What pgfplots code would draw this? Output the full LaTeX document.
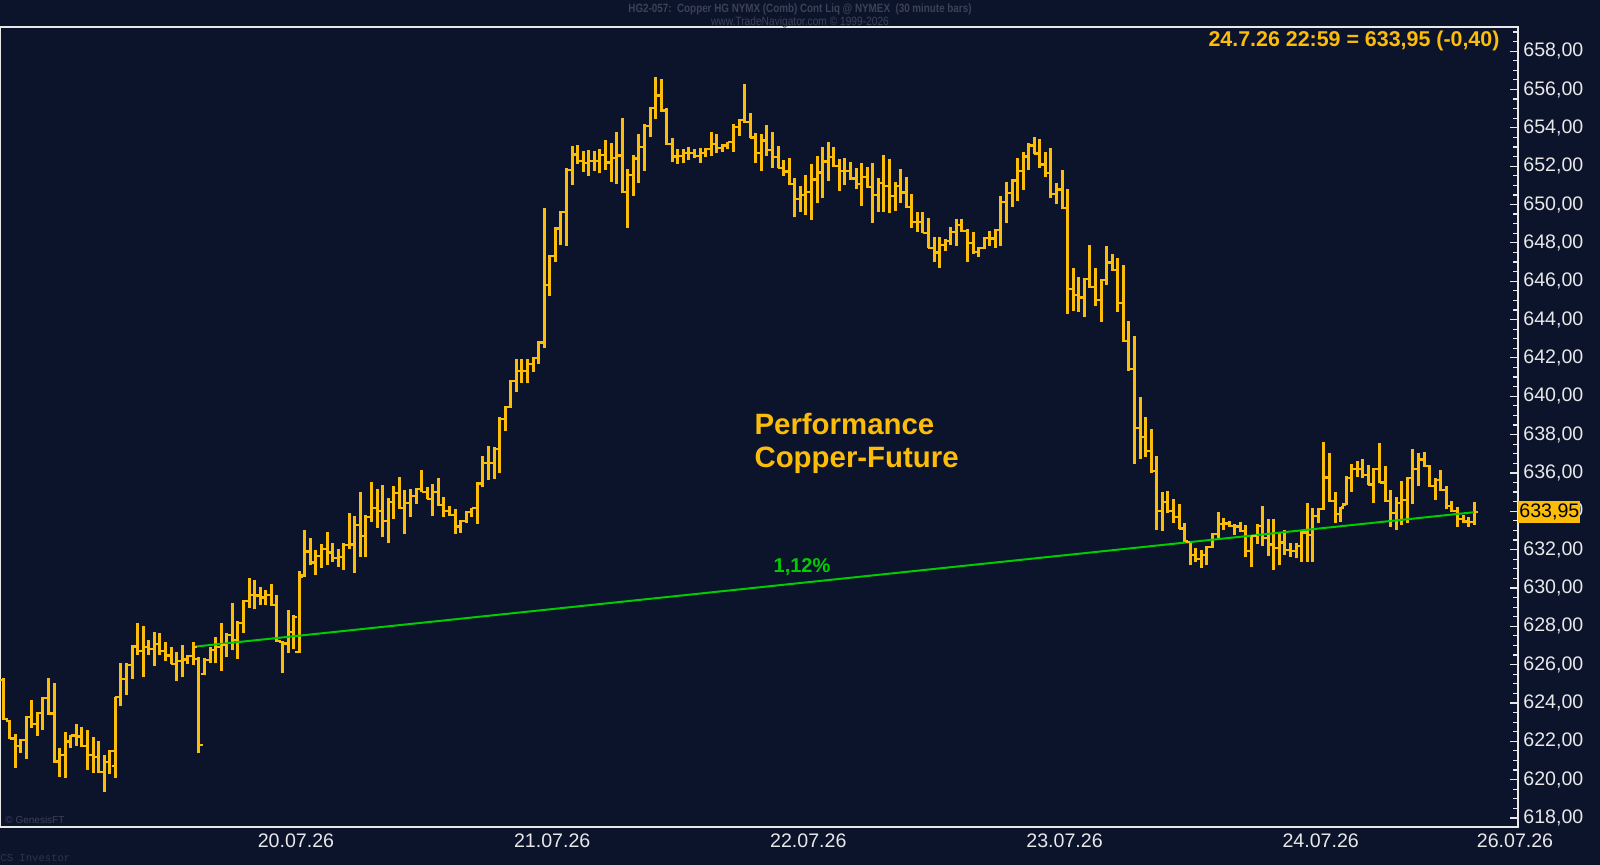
\documentclass[border=0pt]{standalone}
\usepackage{fontspec}
\setmainfont{Liberation Sans}
\setmonofont{Liberation Mono}
\usepackage{pgfplots}
\usepackage{pgfplotstable}
\pgfplotsset{compat=1.18}
\definecolor{bgc}{RGB}{12,20,44}
\definecolor{barc}{RGB}{252,188,10}
\definecolor{greenc}{RGB}{0,204,0}
\definecolor{tickc}{RGB}{232,232,232}
\definecolor{hdrc}{RGB}{60,66,86}
\pgfdeclareplotmark{otick}{\pgfpathmoveto{\pgfqpoint{-1.9pt}{0pt}}\pgfpathlineto{\pgfqpoint{0pt}{0pt}}\pgfusepathqstroke}
\pgfdeclareplotmark{ctick}{\pgfpathmoveto{\pgfqpoint{0pt}{0pt}}\pgfpathlineto{\pgfqpoint{1.9pt}{0pt}}\pgfusepathqstroke}

\pgfplotstableread{
i o h l c
0 625.20 625.29 623.12 623.15
1 623.05 623.12 622.11 622.15
2 622.15 622.38 620.59 621.75
3 621.75 622.11 621.38 622.05
4 622.05 623.32 621.06 623.25
5 623.25 624.16 622.68 622.90
6 622.90 623.55 622.28 623.46
7 623.46 624.33 622.59 624.25
8 624.25 625.32 623.38 623.45
9 623.45 625.03 620.89 620.95
10 620.95 621.64 620.16 621.29
11 621.29 622.51 620.07 621.99
12 621.99 622.33 621.64 622.30
13 622.30 622.89 621.76 622.25
14 622.25 622.77 621.72 621.75
15 621.75 622.59 620.50 621.29
16 621.29 622.25 620.33 621.18
17 621.18 621.99 620.37 620.40
18 620.40 621.29 619.34 620.92
19 620.92 621.55 620.28 621.50
20 620.70 624.33 620.07 624.30
21 624.30 626.07 623.85 625.25
22 625.25 626.07 624.42 626.00
23 626.00 627.03 625.26 626.95
24 626.95 628.16 626.51 626.70
25 626.70 628.02 625.38 626.90
26 626.90 627.29 626.51 626.83
27 626.83 627.72 625.93 627.08
28 627.08 627.64 626.51 626.70
29 626.70 627.20 626.20 626.48
30 626.48 626.94 626.02 626.05
31 626.05 626.68 625.12 626.20
32 626.20 627.03 625.38 626.27
33 626.27 626.51 626.02 626.45
34 626.45 627.20 625.97 626.93
35 626.30 626.38 621.38 621.80
36 625.50 626.33 625.46 626.25
37 626.25 626.94 626.07 626.77
38 626.77 627.46 626.07 626.90
39 626.90 628.16 625.67 627.03
40 627.03 627.64 626.42 627.55
41 627.55 629.24 626.77 627.27
42 627.27 628.25 626.28 628.15
43 628.15 629.38 627.64 629.30
44 629.30 630.50 628.94 629.65
45 629.65 630.40 628.89 629.60
46 629.60 630.07 629.12 629.50
47 629.50 629.90 629.12 629.63
48 629.63 630.20 629.06 629.10
49 629.10 629.63 627.20 627.25
50 627.20 627.23 625.58 627.10
51 627.10 628.85 626.59 627.70
52 627.70 628.59 626.80 628.50
53 626.65 630.89 626.59 630.60
54 630.65 633.02 630.59 631.90
55 631.90 632.59 631.20 631.33
56 631.33 631.98 630.68 631.65
57 631.65 632.28 631.02 632.05
58 632.05 632.90 631.20 631.85
59 631.85 632.33 631.37 631.57
60 631.57 632.03 631.11 631.63
61 631.63 632.33 630.94 632.25
62 632.25 633.93 632.02 632.27
63 632.27 633.75 630.80 633.30
64 633.30 634.99 631.60 632.72
65 632.72 633.81 631.63 633.70
66 633.70 635.51 633.46 634.15
67 634.15 635.15 633.15 634.00
68 634.00 635.37 632.68 633.50
69 633.50 634.68 632.33 634.47
70 634.47 635.34 633.60 634.96
71 634.96 635.81 634.12 634.15
72 634.15 635.11 632.80 634.43
73 634.43 635.15 633.72 634.80
74 634.80 635.23 634.36 635.15
75 635.15 636.15 634.99 635.00
76 635.00 635.29 634.62 634.65
77 634.65 635.42 633.75 635.00
78 635.00 635.72 634.29 634.32
79 634.32 634.76 633.72 634.03
80 634.03 634.29 633.77 633.80
81 633.80 634.10 632.80 633.20
82 633.20 633.55 632.85 633.50
83 633.50 634.02 633.37 633.95
84 633.95 634.19 633.72 634.15
85 634.15 635.51 633.34 635.45
86 635.45 636.88 635.24 636.50
87 636.50 637.40 635.63 636.50
88 636.50 637.33 635.68 637.25
89 637.25 638.90 635.97 638.80
90 638.80 639.49 638.20 639.45
91 639.45 640.84 639.40 640.80
92 640.80 641.92 640.24 641.33
93 641.33 641.94 640.71 641.30
94 641.30 641.94 640.67 641.67
95 641.67 642.06 641.28 642.00
96 642.00 642.88 641.68 642.80
97 642.80 649.84 642.50 645.80
98 645.80 647.37 645.24 647.30
99 647.30 648.84 647.02 648.75
100 648.75 649.66 647.89 649.60
101 649.60 651.89 647.85 651.80
102 651.80 653.07 651.02 652.61
103 652.61 653.11 652.11 652.25
104 652.25 652.81 651.68 652.18
105 652.18 652.85 651.51 652.27
106 652.27 652.79 651.75 652.27
107 652.27 652.90 651.63 652.59
108 652.59 653.37 651.80 652.19
109 652.19 653.19 651.19 652.41
110 652.41 653.77 651.05 652.56
111 652.56 654.53 650.58 650.65
112 650.65 651.84 648.79 651.52
113 651.52 652.58 650.46 652.40
114 652.40 653.66 651.14 652.98
115 652.98 654.18 651.77 654.10
116 654.10 655.11 653.54 655.05
117 655.05 656.64 654.44 655.69
118 655.69 656.53 654.85 654.90
119 654.90 655.02 653.11 653.15
120 653.15 653.46 652.24 652.50
121 652.50 652.90 652.10 652.53
122 652.53 652.90 652.15 652.67
123 652.67 653.02 652.32 652.68
124 652.68 652.90 652.45 652.54
125 652.54 652.93 652.15 652.70
126 652.70 652.93 652.46 652.90
127 652.90 653.80 652.53 653.17
128 653.17 653.66 652.67 652.94
129 652.94 653.16 652.72 653.08
130 653.08 653.28 652.88 653.25
131 653.25 654.20 652.76 654.03
132 654.03 654.46 653.59 654.40
133 654.40 656.27 654.24 654.30
134 654.30 654.76 653.45 653.50
135 653.50 653.72 652.19 652.70
136 652.70 653.66 651.75 653.34
137 653.34 654.15 652.53 652.83
138 652.83 653.77 651.89 652.48
139 652.48 653.07 651.89 651.92
140 651.92 652.32 651.51 651.72
141 651.72 652.41 651.02 651.05
142 651.05 651.37 649.33 650.30
143 650.30 650.97 649.63 650.50
144 650.50 651.54 649.45 650.65
145 650.65 652.10 649.19 651.30
146 651.30 652.53 650.06 651.67
147 651.67 653.02 650.32 652.24
148 652.24 653.25 651.23 652.49
149 652.49 652.99 651.98 652.00
150 652.00 652.36 650.71 651.74
151 651.74 652.45 651.02 651.74
152 651.74 652.20 651.28 651.36
153 651.36 651.92 650.80 651.06
154 651.06 652.19 649.92 651.42
155 651.42 651.98 650.85 650.90
156 650.90 652.15 649.05 650.50
157 650.50 651.37 649.63 651.11
158 651.11 652.59 649.63 650.97
159 650.97 652.36 649.58 650.44
160 650.44 651.19 649.68 650.96
161 650.96 651.85 650.06 650.63
162 650.63 651.45 649.80 649.85
163 649.85 650.55 648.76 649.09
164 649.09 649.63 648.55 649.07
165 649.07 649.63 648.50 648.50
166 648.50 649.28 647.71 647.75
167 647.75 648.29 647.02 647.50
168 647.50 648.32 646.67 647.89
169 647.89 648.18 647.59 648.10
170 648.10 648.81 647.89 648.55
171 648.55 649.25 647.84 648.92
172 648.92 649.25 648.58 648.60
173 648.60 648.71 647.02 648.00
174 648.00 648.58 647.42 647.54
175 647.54 647.80 647.28 647.75
176 647.75 648.32 647.66 648.24
177 648.24 648.64 647.84 648.23
178 648.23 648.71 647.75 648.65
179 648.65 650.44 647.84 650.12
180 650.12 651.19 649.05 650.60
181 650.60 651.31 649.89 651.25
182 651.25 652.44 650.18 651.76
183 651.76 652.76 650.76 652.50
184 652.50 653.19 651.80 653.08
185 653.08 653.51 652.64 652.66
186 652.66 653.40 651.92 652.09
187 652.09 652.76 651.42 651.65
188 651.65 652.93 650.36 650.56
189 650.56 651.11 650.01 650.78
190 650.78 651.81 649.75 649.80
191 649.80 650.80 644.29 645.58
192 645.58 646.68 644.47 645.30
193 645.30 646.21 644.38 645.15
194 645.15 646.15 644.15 646.10
195 646.10 647.89 645.67 645.70
196 645.70 646.68 644.68 645.00
197 645.00 646.10 643.89 646.05
198 646.05 647.84 645.81 646.98
199 646.98 647.41 646.54 646.60
200 646.60 647.23 644.38 644.85
201 644.85 646.85 642.85 642.90
202 642.90 643.93 641.34 641.40
203 641.40 643.16 636.47 638.35
204 638.35 639.98 636.71 637.86
205 637.86 638.90 636.82 637.15
206 637.15 638.28 636.02 636.10
207 636.10 636.89 633.02 634.00
208 634.00 635.02 632.99 634.49
209 634.49 635.08 633.89 634.00
210 634.00 634.62 633.41 633.72
211 633.72 634.36 633.08 633.10
212 633.10 633.37 632.41 632.45
213 632.40 632.41 631.20 631.72
214 631.72 632.06 631.37 631.52
215 631.52 631.98 631.06 631.70
216 631.70 632.19 631.20 632.15
217 632.15 632.85 632.06 632.80
218 632.80 633.98 632.59 633.33
219 633.33 633.63 633.02 633.36
220 633.36 633.51 633.20 633.25
221 633.25 633.33 632.76 633.20
222 633.20 633.46 632.93 632.95
223 632.95 633.28 631.59 631.92
224 631.92 632.76 631.07 632.70
225 632.70 633.33 632.29 633.23
226 633.23 634.27 632.19 632.62
227 632.62 633.58 631.66 632.27
228 632.27 633.58 630.95 632.07
229 632.07 632.93 631.20 632.37
230 632.37 633.02 631.72 631.98
231 631.98 632.33 631.63 631.94
232 631.94 632.33 631.54 632.20
233 632.20 633.02 631.37 632.89
234 632.89 634.41 631.37 632.76
235 632.76 634.15 631.37 633.76
236 633.76 634.15 633.37 634.10
237 634.10 637.63 634.06 635.76
238 635.76 637.02 634.50 634.55
239 634.55 635.02 633.37 633.85
240 633.85 634.24 633.46 634.20
241 634.35 635.86 634.33 635.74
242 635.74 636.45 635.02 636.22
243 636.22 636.64 635.80 636.22
244 636.22 636.71 635.72 635.89
245 635.89 636.41 635.37 635.40
246 635.40 636.27 634.41 636.20
247 636.20 637.54 635.46 635.50
248 635.50 636.36 634.50 634.55
249 634.55 635.11 633.20 633.89
250 633.89 634.76 633.02 634.44
251 634.44 635.60 633.28 634.59
252 634.59 635.80 633.37 635.75
253 635.75 637.23 634.36 636.20
254 636.20 637.06 635.33 636.70
255 636.70 637.07 636.33 636.35
256 636.35 636.41 635.28 635.30
257 635.30 635.72 634.59 635.61
258 635.61 636.15 635.07 635.10
259 635.10 635.33 634.10 634.27
260 634.27 634.55 633.98 634.00
261 634.00 634.20 633.20 633.59
262 633.59 633.80 633.37 633.46
263 633.46 633.72 633.19 633.45
264 633.45 634.50 633.28 633.95
}\ohlc

\begin{document}
\begin{tikzpicture}
\fill[bgc] (0pt,-19pt) rectangle (800pt,413.5pt);
\begin{axis}[
  at={(0pt,0pt)}, anchor=south west,
  width=759pt, height=400pt, scale only axis,
  xmin=-0.718, xmax=271.86, ymin=617.53, ymax=659.26,
  clip=false,
  axis line style={draw=tickc, line width=1pt},
  xtick={52.43,98.43,144.43,190.43,236.43,271.32},
  xticklabels={20.07.26,21.07.26,22.07.26,23.07.26,24.07.26,26.07.26},
  xtick style={draw=none},
  xticklabel style={font=\fontsize{9.8}{11}\selectfont, text=tickc, anchor=north, inner sep=0pt, yshift=-3pt},
  ytick={618,620,...,658},
  minor ytick={618.5,619,...,659},
  ytick pos=right, yticklabel pos=right,
  tick align=inside,
  major tick length=4.2pt, minor tick length=2.5pt,
  ytick style={draw=tickc, line width=0.6pt},
  yticklabel style={font=\fontsize{9.8}{11}\selectfont, text=tickc, anchor=west, inner sep=0pt, xshift=2.5pt,
    /pgf/number format/fixed, /pgf/number format/fixed zerofill, /pgf/number format/precision=2,
    /pgf/number format/use comma, /pgf/number format/1000 sep={}, /pgf/number format/assume math mode=true},
]
\addplot[draw=none, mark=none, forget plot,
  error bars/.cd, y dir=plus, y explicit, error mark=none,
  error bar style={draw=barc, line width=1.5pt}]
  table[x=i, y=l, y error expr=\thisrow{h}-\thisrow{l}] {\ohlc};
\addplot[only marks, mark=otick, mark options={draw=barc, line width=1.1pt}, forget plot]
  table[x=i, y=o] {\ohlc};
\addplot[only marks, mark=ctick, mark options={draw=barc, line width=1.1pt}, forget plot]
  table[x=i, y=c] {\ohlc};
\addplot[greenc, line width=1pt, mark=none] coordinates {(34,626.93) (264,633.95)};
\node[font=\bfseries\fontsize{10}{12}\selectfont, text=greenc] at (axis cs:143.3,631.09) {1,12\%};
\node[anchor=base west, inner sep=0pt, font=\bfseries\fontsize{14.7}{16}\selectfont, text=barc] at (axis cs:134.7,637.98) {Performance};
\node[anchor=base west, inner sep=0pt, font=\bfseries\fontsize{14.7}{16}\selectfont, text=barc] at (axis cs:134.7,636.26) {Copper-Future};
\node[anchor=base east, inner sep=0pt, font=\bfseries\fontsize{10.7}{12}\selectfont, text=barc] at (axis cs:268.6,658.24) {24.7.26 22:59 = 633,95 (-0,40)};
\coordinate (pbox) at (axis cs:271.86,633.95);
\end{axis}
\node[fill=barc, text=black, anchor=west, inner sep=0pt, minimum width=31pt, minimum height=11pt, font=\fontsize{9.8}{11}\selectfont] at (pbox) {633,95};
\node[font=\bfseries\fontsize{6}{7}\selectfont, text=hdrc, xscale=0.82] at (400pt,409pt) {HG2-057:\ \ Copper HG NYMX (Comb) Cont Liq @ NYMEX\ \ (30 minute bars)};
\node[font=\fontsize{6}{7}\selectfont, text=hdrc, xscale=0.85] at (400pt,402.5pt) {www.TradeNavigator.com \textcopyright{} 1999-2026};
\node[anchor=west, inner sep=0pt, font=\fontsize{5}{6}\selectfont, text=hdrc] at (2.5pt,3.5pt) {\textcopyright{} GenesisFT};
\node[anchor=west, inner sep=0pt, font=\ttfamily\fontsize{5.3}{6}\selectfont, text=hdrc!70!bgc] at (0pt,-15.5pt) {CS Investor};
\pgfresetboundingbox
\path[use as bounding box] (0pt,-19pt) rectangle (800pt,413.5pt);
\end{tikzpicture}
\end{document}
